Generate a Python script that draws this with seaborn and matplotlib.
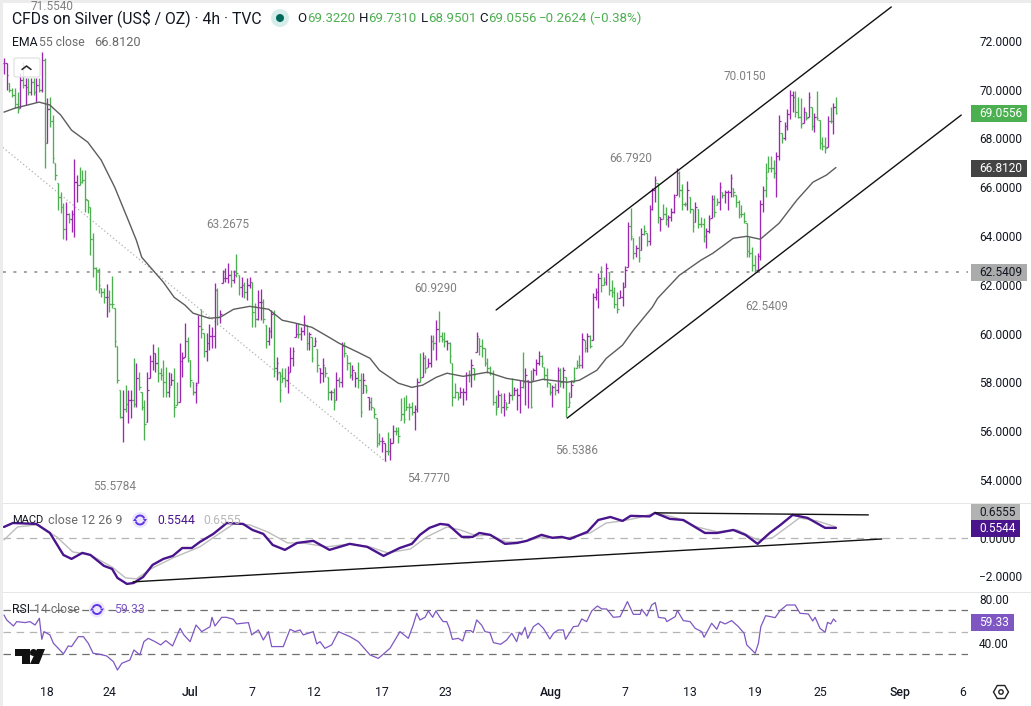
# CFDs on Silver 4h chart with EMA, MACD and RSI panels
import pandas as pd
import seaborn as sns
import matplotlib.pyplot as plt
from matplotlib.patches import Circle, FancyBboxPatch, Polygon, Rectangle, RegularPolygon, Arc

W, H = 1031, 706

# OHLC bars
highs = [
    71.29, 71.09, 70.27, 70.06, 70.06, 69.90, 70.68, 71.13, 70.47, 70.47,
    70.47, 70.47, 70.47, 70.47, 71.54, 71.29, 69.65, 69.69, 68.95, 66.99,
    66.17, 65.80, 65.35, 65.39, 64.94, 65.06, 67.15, 66.49, 66.82, 66.70,
    66.70, 65.47, 65.18, 64.12, 62.72, 62.68, 61.86, 61.86, 62.03, 61.78,
    62.35, 61.04, 59.48, 57.68, 57.68, 57.88, 57.68, 57.68, 58.99, 58.79,
    58.42, 57.60, 57.27, 58.42, 59.11, 59.57, 59.20, 59.44, 58.58, 58.91,
    58.62, 58.42, 58.38, 58.58, 58.01, 59.61, 59.24, 60.43, 59.85, 58.91,
    58.01, 58.01, 60.75, 61.00, 60.02, 60.02, 60.39, 60.26, 62.07, 61.86,
    60.96, 62.60, 62.68, 62.89, 62.60, 62.60, 63.26, 62.39, 62.31, 62.11,
    62.27, 62.31, 62.11, 61.25, 61.78, 61.82, 61.41, 60.35, 60.26, 60.96,
    60.96, 59.03, 58.42, 58.58, 58.58, 58.66, 59.44, 59.44, 60.43, 60.43,
    60.26, 60.75, 60.35, 60.06, 59.85, 59.85, 59.36, 58.58, 58.99, 58.62,
    58.21, 57.68, 57.76, 58.42, 58.21, 59.65, 59.65, 59.12, 58.83, 58.70,
    58.42, 58.83, 58.38, 58.38, 57.89, 57.39, 57.39, 56.94, 56.53, 55.92,
    55.75, 55.51, 55.96, 55.71, 56.24, 56.16, 56.16, 57.35, 57.39, 57.48,
    57.15, 57.19, 57.06, 58.17, 59.20, 59.24, 59.12, 58.99, 59.94, 59.94,
    60.55, 60.92, 60.06, 60.06, 59.73, 59.65, 58.79, 57.97, 57.60, 57.80,
    57.76, 58.42, 58.50, 58.95, 58.58, 60.06, 59.81, 59.77, 59.40, 58.99,
    58.66, 58.50, 57.48, 57.68, 57.56, 57.56, 57.19, 57.60, 58.17, 57.80,
    57.76, 58.09, 59.24, 58.58, 58.09, 58.50, 58.58, 58.95, 59.28, 59.12,
    58.62, 58.58, 57.97, 57.89, 57.97, 58.62, 58.58, 58.62, 58.21, 57.60,
    58.09, 58.62, 58.91, 59.12, 60.02, 59.73, 60.02, 59.94, 61.66, 61.86,
    62.48, 62.76, 62.31, 62.89, 62.52, 62.19, 61.90, 61.70, 61.78, 62.11,
    62.76, 64.57, 65.14, 63.91, 63.63, 63.99, 64.32, 64.45, 64.12, 65.26,
    65.96, 66.45, 66.17, 64.77, 65.31, 65.18, 64.86, 65.14, 65.72, 66.78,
    66.66, 66.13, 65.39, 66.25, 65.59, 65.10, 65.39, 65.10, 64.77, 64.73,
    64.32, 64.86, 65.68, 65.68, 65.55, 66.21, 65.80, 65.88, 65.88, 66.54,
    65.96, 65.67, 65.47, 65.26, 64.98, 64.53, 63.95, 63.54, 63.22, 63.30,
    65.47, 66.04, 66.99, 67.27, 67.27, 67.11, 67.44, 68.96, 68.22, 68.67,
    69.20, 69.98, 69.94, 69.94, 69.69, 69.65, 69.28, 69.08, 69.90, 69.28,
    69.04, 69.94, 68.75, 68.05, 68.05, 68.91, 69.28, 69.45, 69.69,
]
lows = [
    70.64, 69.98, 69.90, 69.69, 69.24, 69.04, 69.24, 70.06, 69.37, 69.78,
    69.78, 69.78, 69.49, 69.90, 69.90, 66.78, 67.81, 68.46, 66.99, 66.29,
    65.06, 64.94, 63.87, 63.83, 64.53, 64.16, 63.95, 65.39, 66.08, 66.17,
    64.98, 64.94, 63.22, 62.31, 61.78, 61.66, 61.49, 61.25, 60.67, 60.88,
    61.04, 59.44, 57.97, 56.53, 55.55, 56.78, 56.33, 56.53, 56.98, 56.98,
    57.68, 56.86, 55.63, 56.37, 58.17, 58.50, 58.42, 58.01, 58.09, 57.39,
    57.39, 57.39, 57.89, 56.57, 57.06, 57.19, 58.21, 59.03, 58.83, 57.80,
    57.48, 57.15, 57.97, 59.81, 59.03, 58.87, 59.32, 59.40, 59.40, 60.35,
    60.43, 62.07, 62.11, 62.07, 61.90, 62.07, 62.31, 61.57, 61.49, 61.45,
    61.37, 61.86, 60.26, 60.26, 60.55, 60.55, 60.43, 59.40, 59.53, 59.81,
    58.21, 58.09, 57.19, 58.01, 57.80, 57.56, 58.42, 58.66, 59.85, 59.81,
    59.73, 59.93, 59.32, 59.32, 58.83, 59.48, 58.42, 57.97, 58.01, 58.21,
    57.27, 57.27, 56.86, 57.27, 57.80, 57.80, 59.03, 58.50, 58.17, 58.09,
    57.80, 57.76, 56.57, 57.56, 57.56, 56.86, 56.86, 56.53, 55.34, 55.43,
    55.14, 54.78, 55.02, 54.81, 55.51, 55.83, 55.51, 56.45, 56.33, 56.86,
    56.45, 56.66, 56.04, 56.78, 58.01, 58.21, 58.38, 58.62, 58.62, 59.32,
    58.91, 59.65, 59.65, 59.44, 59.32, 58.79, 57.02, 57.35, 57.27, 57.35,
    57.06, 57.27, 58.01, 57.80, 58.09, 59.24, 59.12, 59.03, 58.66, 58.38,
    58.29, 57.06, 56.66, 56.98, 56.74, 56.61, 56.86, 57.15, 57.27, 57.48,
    56.86, 56.74, 57.76, 57.06, 56.94, 56.94, 58.09, 58.29, 58.70, 58.62,
    58.09, 57.80, 57.48, 56.98, 57.48, 57.56, 57.80, 57.76, 56.57, 56.98,
    57.39, 58.01, 58.58, 58.58, 58.58, 59.24, 59.24, 59.40, 59.73, 61.37,
    61.04, 61.70, 61.99, 61.99, 61.57, 61.49, 61.04, 60.84, 61.45, 61.12,
    61.90, 62.72, 63.83, 63.05, 63.13, 62.93, 63.42, 64.04, 63.58, 63.63,
    65.06, 65.39, 64.53, 64.20, 64.69, 64.45, 64.36, 64.61, 64.94, 65.68,
    65.59, 65.06, 65.22, 65.06, 64.94, 64.16, 64.57, 64.32, 64.36, 63.75,
    63.50, 64.12, 64.73, 64.77, 65.27, 65.06, 65.55, 65.35, 65.06, 65.59,
    65.59, 65.18, 64.73, 64.77, 64.53, 63.13, 63.13, 62.56, 62.54, 62.60,
    63.01, 64.98, 65.59, 66.62, 66.62, 66.37, 65.59, 67.11, 67.81, 67.93,
    68.34, 68.79, 69.08, 68.87, 68.83, 68.42, 68.63, 68.75, 68.87, 68.34,
    68.26, 68.75, 67.56, 67.52, 67.40, 67.64, 68.63, 68.18, 69.00,
]
closes = [
    71.10, 70.60, 70.00, 69.80, 69.40, 69.20, 70.40, 70.20, 70.10, 69.90,
    70.30, 69.90, 70.20, 70.00, 71.20, 67.80, 69.20, 68.70, 67.20, 66.50,
    65.60, 65.20, 64.30, 64.90, 64.70, 64.90, 66.20, 66.10, 66.20, 66.30,
    65.50, 65.20, 63.90, 62.70, 62.60, 62.00, 61.70, 61.50, 61.50, 61.20,
    61.20, 59.70, 58.10, 56.60, 56.90, 57.10, 57.30, 57.30, 57.10, 58.20,
    57.80, 57.00, 56.30, 57.70, 58.90, 59.20, 58.80, 58.40, 58.30, 58.00,
    57.60, 57.80, 58.10, 57.00, 57.20, 58.90, 59.00, 59.70, 59.00, 58.10,
    57.60, 57.90, 60.30, 60.20, 59.30, 59.60, 59.90, 59.90, 61.80, 60.70,
    60.80, 62.30, 62.30, 62.40, 62.20, 62.40, 62.50, 61.90, 62.00, 61.70,
    62.00, 62.10, 60.90, 60.60, 61.30, 61.30, 60.60, 59.70, 60.10, 60.80,
    58.60, 58.80, 57.70, 58.20, 58.10, 58.40, 59.00, 59.30, 60.00, 60.00,
    60.10, 60.40, 59.60, 60.00, 59.00, 59.70, 58.70, 58.40, 58.70, 58.40,
    57.60, 57.60, 57.20, 58.10, 58.00, 59.50, 59.20, 58.80, 58.30, 58.50,
    58.20, 58.10, 56.80, 58.10, 57.70, 57.20, 57.00, 56.70, 55.50, 55.60,
    55.60, 55.20, 55.20, 55.50, 56.00, 56.00, 55.80, 56.70, 56.50, 57.00,
    57.00, 56.80, 56.90, 58.00, 58.20, 59.00, 58.60, 58.80, 59.70, 59.60,
    60.20, 59.90, 59.80, 59.70, 59.60, 59.10, 57.40, 57.60, 57.40, 57.60,
    57.60, 58.30, 58.30, 58.70, 58.30, 59.90, 59.50, 59.40, 58.80, 58.60,
    58.40, 57.20, 56.90, 57.50, 57.00, 57.30, 57.00, 57.50, 57.50, 57.70,
    57.50, 57.80, 58.00, 58.30, 58.00, 57.00, 58.50, 58.80, 59.10, 58.80,
    58.30, 58.00, 57.60, 57.80, 57.70, 58.50, 58.00, 58.50, 56.90, 57.20,
    57.90, 58.20, 58.70, 58.70, 59.80, 59.40, 59.90, 59.50, 61.50, 61.70,
    62.30, 62.00, 62.10, 62.70, 61.80, 61.70, 61.20, 61.00, 61.50, 61.90,
    62.60, 64.40, 64.00, 63.30, 63.50, 63.10, 64.10, 64.20, 63.80, 65.10,
    65.90, 66.30, 64.80, 64.70, 64.90, 64.70, 64.80, 65.00, 65.60, 66.60,
    65.90, 65.30, 65.30, 65.90, 65.10, 64.40, 65.20, 64.50, 64.50, 64.00,
    64.20, 64.70, 65.50, 65.00, 65.40, 66.00, 65.70, 65.80, 65.80, 66.40,
    65.80, 65.40, 64.90, 64.90, 64.60, 63.40, 63.30, 62.80, 62.60, 63.20,
    65.30, 65.90, 66.40, 66.80, 66.80, 66.60, 67.30, 68.70, 68.00, 68.50,
    69.00, 69.80, 69.70, 69.10, 68.90, 68.60, 69.10, 68.85, 69.70, 68.50,
    68.90, 68.85, 67.80, 67.70, 67.60, 68.70, 68.70, 69.30, 69.06,
]
# p = rising bar, g = falling bar
bar_dir = (
    "ppggggpgpg" "pgpgpgpggg" "gggpgpppgg" "ggggggggpg" "ggggpgppgp"
    "gggppppggg" "gppggpppgg" "gppggppppg" "ppppgpggpg" "ppggppggpp"
    "gpgggppppg" "ppgpgpgppg" "gpgpgpgggp" "pggpgpgggg" "ppgppggggg"
    "ggppgpgppg" "pgggpggggp" "ppgpgpgggg" "gggpgpgpgp" "ppgppgpppg"
    "gggpgpgpgg" "pgggpgpgpp" "pggpggggpp" "ppggpgpggp" "ppgpggpppp"
    "gggpggpggg" "pppggpgppp" "gggggggggp" "ppggggppgp" "pppgggpgpg"
    "pggggpgpg"
)

ema_bar = [0, 4, 13, 17, 21, 25, 31, 36, 41, 46, 49, 51, 59, 63, 67, 70, 76, 80, 85, 91,
           98, 103, 108, 114, 121, 124, 131, 135.5, 139, 146, 151, 155, 160, 164, 170, 179,
           186, 195, 199.5, 208.5, 213, 219.5, 223, 229, 233, 240, 242, 250, 258, 262.5,
           270, 275, 280, 287, 293.5, 299.5, 304.5, 308]
ema_val = [69.08, 69.24, 69.49, 69.37, 68.96, 68.34, 67.85, 67.11, 66.00, 64.65, 63.83, 63.13,
           62.11, 61.49, 61.17, 60.84, 60.63, 60.67, 61.00, 61.12, 61.00, 60.55, 60.43, 60.26,
           59.81, 59.61, 59.24, 58.99, 58.50, 57.97, 57.80, 57.89, 58.21, 58.38, 58.25, 58.42,
           58.17, 58.01, 58.13, 58.01, 58.09, 58.50, 58.99, 59.53, 60.14, 61.08, 61.45, 62.39,
           63.01, 63.30, 63.91, 63.99, 63.87, 64.53, 65.47, 66.21, 66.50, 66.81]

macd_bar = [0, 3.3, 12, 17, 22, 25, 29, 32, 37, 40, 42, 45.5, 48, 51.5, 55, 59, 62.5, 66, 69.5,
            72.5, 77.5, 82.5, 88.5, 92, 96, 99.5, 104, 108.5, 114.5, 120.5, 128, 134.5, 140.5,
            146.5, 151, 154, 157.5, 161.5, 164.5, 169.5, 173.5, 176, 180, 185.5, 190, 193.5,
            199, 203, 206.5, 209.5, 216, 220, 224.5, 229, 232, 239, 241, 246.5, 251.5, 259.5,
            264, 270, 274.5, 279, 283.5, 287.5, 292, 297.5, 304, 308]
macd_val = [0.60, 0.81, 0.76, 0.28, -0.89, -1.10, -0.78, -0.89, -1.47, -1.63, -2.11, -2.43, -2.38,
            -2.06, -1.42, -1.10, -0.94, -0.52, -0.52, -0.20, 0.23, 0.81, 0.76, 0.44, 0.23, -0.36,
            -0.62, -0.25, -0.14, -0.62, -0.30, -0.46, -0.94, -0.52, -0.30, 0.18, 0.55, 0.76, 0.71,
            0.07, 0.07, 0.28, 0.18, -0.30, -0.25, -0.14, 0.18, 0.02, 0.07, -0.04, 0.34, 0.97, 1.13,
            0.92, 1.19, 1.16, 1.35, 1.03, 0.97, 0.28, 0.28, 0.44, 0.18, -0.30, 0.28, 0.71, 1.24,
            1.08, 0.55, 0.55]
signal_bar = [0, 5, 12, 19.5, 25.5, 32, 40, 45, 49, 55, 62.5, 72.5, 79, 85, 91, 97.5, 105, 110.5,
              119.5, 128, 135.5, 142, 150.5, 156.5, 164, 169, 175, 180, 186, 192, 199.5, 208.5,
              217, 223, 229, 234.5, 241.5, 249, 256.5, 264, 271.5, 279, 284.5, 290, 294.5, 301, 308]
signal_val = [-0.09, 0.60, 0.71, 0.07, -0.73, -0.89, -1.53, -2.11, -2.16, -1.58, -1.05, -0.46, 0.18,
              0.76, 0.71, 0.34, -0.25, -0.25, -0.46, -0.30, -0.46, -0.78, -0.57, 0.07, 0.60, 0.44,
              0.12, 0.18, -0.20, -0.20, 0.07, 0.02, 0.28, 0.81, 0.92, 1.08, 1.35, 1.08, 0.60, 0.34,
              0.44, -0.09, 0.02, 0.60, 1.08, 0.92, 0.60]

rsi_bar = [0, 1, 3.5, 4.7, 7.8, 9.6, 11.5, 13.1, 14, 14.8, 17, 18.3, 20.1, 22, 23.8, 25, 27.5, 29.4,
           31.2, 33, 35.5, 38, 40.5, 42, 43.6, 46.6, 48.1, 50.3, 51.8, 53.4, 55.9, 58, 59.9, 62.4,
           65.2, 66.6, 68.9, 71.1, 73.2, 76.3, 77, 78.1, 80.6, 82.4, 84.9, 86.1, 90.5, 91.7, 94.2,
           96, 97.9, 99.1, 103.4, 105.9, 107.7, 109.6, 110.8, 114.5, 115.8, 117, 118.8, 121.3,
           123.8, 128.1, 131.2, 135.5, 138.6, 142.9, 146.6, 149.7, 151.5, 152.8, 154, 155.9, 157.1,
           158.7, 159.9, 161.4, 162.6, 163.9, 164.9, 166, 168.2, 169.8, 171, 172.8, 173.7, 175,
           176.8, 178.1, 179.9, 181.2, 183.9, 186.1, 188, 189.8, 190.8, 191.6, 192.9, 193.9, 196,
           197.8, 199.7, 202.1, 203.4, 205.2, 207.1, 207.9, 210.8, 212.6, 213.9, 215.7, 217.6,
           219.7, 221.3, 223.1, 225.6, 228.1, 230.8, 233, 235.5, 236.1, 238, 239.8, 241.1, 242.3,
           244.8, 245.4, 248.5, 249.3, 251.5, 254, 255.9, 258.3, 259.2, 262, 263.9, 265.1, 267,
           269.4, 271.9, 274, 275, 278.1, 279.3, 280.2, 282, 285.5, 287.3, 289.8, 292.9, 294.7,
           297.8, 299.4, 300.3, 302.1, 304, 304.9, 306.1, 307.1, 308]
rsi_val = [65.7, 61.2, 55.7, 59.7, 58.8, 59.7, 56.6, 62.7, 43.6, 50.6, 47.6, 40.0, 35.4, 30.3, 37.6,
           37.0, 46.0, 46.0, 40.0, 30.9, 30.0, 28.5, 23.3, 15.7, 21.8, 24.8, 33.9, 29.4, 41.5, 44.5,
           41.5, 38.5, 42.4, 37.6, 53.6, 47.6, 41.5, 56.6, 50.6, 55.1, 63.6, 55.7, 63.6, 63.6, 61.8,
           57.6, 58.8, 47.6, 52.1, 43.0, 50.6, 37.0, 37.0, 52.7, 50.6, 52.1, 47.6, 50.6, 39.4, 41.5,
           35.4, 38.5, 50.6, 46.0, 41.5, 29.4, 26.3, 35.4, 50.6, 44.5, 56.6, 67.3, 61.2, 63.6, 69.4,
           63.6, 69.4, 63.6, 59.7, 59.7, 53.6, 43.6, 44.5, 42.1, 51.5, 51.5, 49.7, 61.2, 56.6, 50.6,
           49.7, 40.6, 39.1, 43.0, 49.1, 41.5, 50.0, 47.6, 54.5, 44.5, 55.1, 58.2, 53.6, 43.9, 49.1,
           52.1, 52.1, 43.6, 55.1, 55.7, 62.1, 59.7, 69.4, 73.9, 71.2, 71.2, 63.6, 64.2, 77.9, 66.3,
           66.3, 70.9, 64.8, 74.8, 77.0, 63.6, 62.7, 59.7, 64.2, 69.7, 60.6, 59.7, 53.6, 50.6, 45.4,
           58.2, 52.7, 59.7, 57.6, 60.6, 55.1, 49.1, 38.5, 30.9, 40.0, 55.1, 65.1, 63.3, 69.7, 74.8,
           74.8, 67.3, 66.6, 60.3, 63.6, 53.6, 50.0, 59.0, 57.6, 62.1, 59.7]

# drawn trend lines, as (bar, value) ends
channel_top = ([182.2, 328.5], [60.97, 73.39])
channel_bottom = ([208.5, 354.4], [56.54, 68.96])
down_line = ([-1.5, 141.5], [67.73, 54.74])
macd_low_line = ([47.8, 325], [-2.32, -0.04])
macd_high_line = ([241, 320], [1.35, 1.24])
last_low = 62.5409

price_ticks = [54, 56, 58, 60, 62, 64, 66, 68, 70, 72]
macd_ticks = [-2, 0]
macd_tick_labels = ["\u22122.0000", "0.0000"]
rsi_ticks = [40, 80]
rsi_tick_labels = ["40.00", "80.00"]
time_ticks = [15.9, 39.2, 68.9, 91.8, 114.8, 139.9, 163.3, 202.5, 229.9, 254, 278, 302.1, 331.7, 355]
time_labels = ["18", "24", "Jul", "7", "12", "17", "23", "Aug", "7", "13", "19", "25", "Sep", "6"]

# (text, x, y) of the high/low notes on the chart
price_notes = [("71.5540", 52, 7), ("63.2675", 228, 225), ("60.9290", 436, 289), ("66.7920", 631, 159),
               ("70.0150", 745, 77), ("62.5409", 767, 307), ("56.5386", 577, 450), ("55.5784", 115, 486),
               ("54.7770", 429, 478)]

GREEN = "#4caf50"
PURPLE = "#9c27b0"
FONT = "Roboto"
TXT = "#131722"
GREY = "#808080"

sns.set_style("white")
plt.rcParams["font.family"] = [FONT, "DejaVu Sans"]

fig = plt.figure(figsize=(W / 100, H / 100), dpi=100)


def panel(top, bottom):
    # axes from the chart's left edge to the price scale
    ax = fig.add_axes([3 / W, 1 - bottom / H, 965 / W, (bottom - top) / H])
    for s in ax.spines.values():
        s.set_visible(False)
    ax.yaxis.tick_right()
    ax.set_xlim(-0.37, 356.9)
    ax.tick_params(axis="y", length=0, pad=8, labelsize=8.6, labelcolor=TXT)
    ax.tick_params(axis="x", length=0, bottom=False, labelbottom=False)
    ax.patch.set_alpha(0)
    return ax


ax_price = panel(5, 503)
ax_macd = panel(504, 592)
ax_rsi = panel(593, 672)
ax_price.set_ylim(53.06, 73.47)
ax_macd.set_ylim(-2.86, 1.82)
ax_rsi.set_ylim(13.9, 85.7)

bars = pd.DataFrame({"high": highs, "low": lows, "close": closes, "dir": list(bar_dir)})
bars["bar"] = bars.index
bars["open"] = bars["close"].shift(1).fillna(bars["close"]).clip(bars["low"], bars["high"])
bars["color"] = bars["dir"].map({"p": PURPLE, "g": GREEN})

ax_price.axhline(last_low, color="#9a9a9a", lw=1.3, ls=(0, (1.6, 4.2)))
ax_price.plot(*down_line, color="#b0b0b0", lw=0.9, ls=(0, (1, 2)))
ax_price.vlines(bars["bar"], bars["low"], bars["high"], colors=bars["color"], lw=0.95)
ax_price.hlines(bars["open"], bars["bar"] - 0.55, bars["bar"], colors=bars["color"], lw=0.9)
ax_price.hlines(bars["close"], bars["bar"], bars["bar"] + 0.55, colors=bars["color"], lw=0.9)
sns.lineplot(x=ema_bar, y=ema_val, ax=ax_price, color="#5d5d5d", linewidth=1.0,
             estimator=None, sort=False, errorbar=None)
ax_price.plot(*channel_top, color="#111111", lw=1.0)
ax_price.plot(*channel_bottom, color="#111111", lw=1.0)
ax_price.set_yticks(price_ticks, [f"{t:.4f}" for t in price_ticks])

ax_macd.axhline(0, color="#b5b5b5", lw=0.9, ls=(0, (6, 4.5)))
sns.lineplot(x=signal_bar, y=signal_val, ax=ax_macd, color="#bdbdbd", linewidth=1.0,
             estimator=None, sort=False, errorbar=None)
sns.lineplot(x=macd_bar, y=macd_val, ax=ax_macd, color="#4a148c", linewidth=1.7,
             estimator=None, sort=False, errorbar=None)
ax_macd.plot(*macd_low_line, color="#111111", lw=1.0)
ax_macd.plot(*macd_high_line, color="#111111", lw=1.0)
ax_macd.set_yticks(macd_ticks, macd_tick_labels)

ax_rsi.axhline(70, color="#6e6e6e", lw=0.9, ls=(0, (6, 4.5)))
ax_rsi.axhline(50, color="#b5b5b5", lw=0.9, ls=(0, (6, 4.5)))
ax_rsi.axhline(30, color="#6e6e6e", lw=0.9, ls=(0, (6, 4.5)))
sns.lineplot(x=rsi_bar, y=rsi_val, ax=ax_rsi, color="#7e57c2", linewidth=0.9,
             estimator=None, sort=False, errorbar=None)
ax_rsi.set_yticks(rsi_ticks, rsi_tick_labels)
ax_rsi.set_xticks(time_ticks, time_labels)
ax_rsi.tick_params(axis="x", labelbottom=True, labelsize=8.8, labelcolor=TXT, pad=10)
for lab in ax_rsi.get_xticklabels():
    if lab.get_text() in ("Jul", "Aug", "Sep"):
        lab.set_fontweight("medium")

for ax in (ax_price, ax_macd, ax_rsi):
    ax.set_xlabel("")
    ax.set_ylabel("")

# overlay in picture pixels for the chart furniture and labels
top = fig.add_axes([0, 0, 1, 1], zorder=10)
top.set_xlim(0, W)
top.set_ylim(H, 0)
top.axis("off")

top.add_patch(Rectangle((0, 0), 3, H, color="#ececec", lw=0))
top.add_patch(Rectangle((0, 0), W, 3, color="#ececec", lw=0))
top.add_patch(Rectangle((3, 503), W, 1.4, color="#e6e6e6", lw=0))
top.add_patch(Rectangle((3, 592), W, 1.4, color="#e6e6e6", lw=0))


def label(x, y, s, color=TXT, size=8.8, ha="left", **kw):
    top.text(x, y, s, color=color, fontsize=size, ha=ha, va="center", **kw)


for s, x, y in price_notes:
    label(x, y, s, color=GREY, ha="center", size=8.5)

# legend rows
label(12, 18.5, "CFDs on Silver (US$ / OZ) \u00b7 4h \u00b7 TVC", size=11.3)
top.add_patch(Circle((280, 18), 9, color="#d6edea", lw=0))
top.add_patch(Circle((280, 18), 4, color="#00695c", lw=0))
for s, x, c in [("O", 297, TXT), ("69.3220", 307, GREEN), ("H", 359, TXT), ("69.7310", 368, GREEN),
                ("L", 421, TXT), ("68.9501", 428, GREEN), ("C", 479, TXT), ("69.0556", 488, GREEN),
                ("\u22120.2624", 539, GREEN), ("(\u22120.38%)", 589, GREEN)]:
    label(x, 18.5, s, color=c, size=9.5)
label(12, 43, "EMA")
label(39, 43, "55 close", color="#6a6a6a")
label(94, 43, "66.8120", color="#6a6a6a", size=9.2)
top.add_patch(FancyBboxPatch((14, 58), 26, 19, boxstyle="round,pad=0,rounding_size=2",
                             fc=(1, 1, 1, 0.82), ec="#dddddd", lw=0.8))
top.plot([22, 26.5, 31], [69.5, 66, 69.5], color="#222222", lw=1.1)

label(12, 520, "MACD", size=8.0)
label(48, 520, "close 12 26 9", color="#6a6a6a", size=9.0)
label(157, 520, "0.5544", color="#4a148c")
label(203, 520, "0.6555", color="#b8b8b8")
label(12, 609.5, "RSI")
label(34, 609.5, "14 close", color="#6a6a6a")
label(114, 609.5, "59.33", color="#7e57c2")
for cx, cy in [(140, 520), (97, 609.5)]:
    top.add_patch(Circle((cx, cy), 8, color="#ede7fb", lw=0))
    top.add_patch(Arc((cx, cy), 9, 9, theta1=200, theta2=340, color="#5e35e6", lw=1.4))
    top.add_patch(Arc((cx, cy), 9, 9, theta1=20, theta2=160, color="#5e35e6", lw=1.4))
    top.add_patch(Polygon([(cx + 3, cy - 1), (cx + 7, cy - 1), (cx + 5, cy + 2)], color="#5e35e6", lw=0))
    top.add_patch(Polygon([(cx - 7, cy + 1), (cx - 3, cy + 1), (cx - 5, cy - 2)], color="#5e35e6", lw=0))

# last value tags on the scale
for y0, y1, x1, s, fc, tc in [(105, 122, 1027, "69.0556", GREEN, "white"),
                              (160, 177, 1027, "66.8120", "#434343", "white"),
                              (264, 281, 1027, "62.5409", "#ababab", TXT),
                              (504, 520, 1020, "0.6555", "#b2b2b2", TXT),
                              (520, 537, 1020, "0.5544", "#4a148c", "white"),
                              (614, 631, 1014, "59.33", "#7e57c2", "white")]:
    top.add_patch(Rectangle((971, y0), x1 - 971, y1 - y0, color=fc, lw=0))
    label(979, (y0 + y1) / 2, s, color=tc, size=8.6)

# TradingView mark and settings icon
top.add_patch(Polygon([(15, 649), (30, 649), (30, 664), (22, 664), (22, 656), (15, 656)], color="#111111", lw=0))
top.add_patch(Circle((33.5, 652.5), 3.5, color="#111111", lw=0))
top.add_patch(Polygon([(37, 649), (45, 649), (39, 664), (30, 664)], color="#111111", lw=0))
top.add_patch(RegularPolygon((1001, 692), 6, radius=7.5, orientation=0.5236, fill=False, ec="#222222", lw=1.0))
top.add_patch(Circle((1001, 692), 2.2, fill=False, ec="#222222", lw=1.0))

fig.savefig("out.png", dpi=100)
